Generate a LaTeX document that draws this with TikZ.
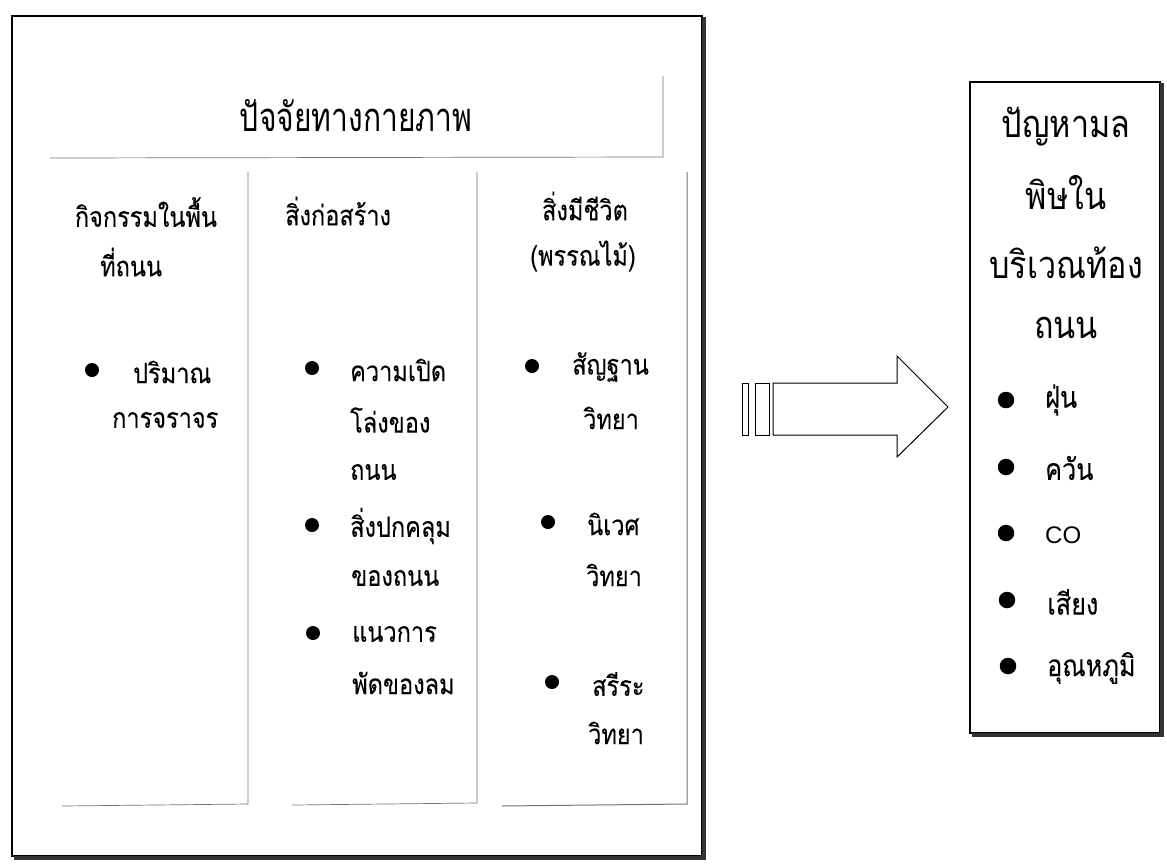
\documentclass[tikz,border=0pt]{standalone}
\usepackage{fontspec}
\setmainfont[Script=Thai]{Loma}
\newfontfamily\latinfont{Liberation Sans}
\newfontfamily\thaibody[Script=Thai,FakeStretch=0.84,FakeBold=0.12]{Loma}
\newfontfamily\thaititle[Script=Thai,FakeStretch=0.75]{Loma}
\newfontfamily\thairt[Script=Thai,FakeStretch=0.85]{Loma}
\tikzset{
  txt/.style={anchor=west, inner sep=0pt, font=\thaibody\fontsize{28}{32}\selectfont},
  ctxt/.style={anchor=center, inner sep=0pt, font=\thaibody\fontsize{28}{32}\selectfont},
  bigtxt/.style={anchor=center, inner sep=0pt, font=\thaititle\fontsize{40}{44}\selectfont},
  rtxt/.style={anchor=center, inner sep=0pt, font=\thairt\fontsize{38}{42}\selectfont},
  rbtxt/.style={anchor=west, inner sep=0pt, font=\thaibody\fontsize{30}{34}\selectfont},
  blt/.style={circle, fill=black, minimum size=14pt, inner sep=0pt},
  rblt/.style={circle, fill=black, minimum size=16.5pt, inner sep=0pt},
  colline/.style={draw=black!55, line width=0.7pt},
  frame/.style={draw=black, line width=1.3pt},
  shadow/.style={draw=black!80, line width=3.5pt},
  arrowline/.style={draw=black, line width=1pt}
}
\begin{document}
\begin{tikzpicture}[x=1pt,y=-1pt]
\useasboundingbox (0,0) rectangle (1167,863);
% outer frame
\draw[frame] (12,16) rectangle (702,856);
\draw[shadow] (704,17) -- (704,858) -- (14,858);
% title
\node[bigtxt] (title) at (356,116) {ปัจจัยทางกายภาพ};
\draw[colline] (50,158) -- (663,157) -- (663,76);
% columns
\draw[colline] (62,806) -- (248,804) -- (248,172);
\draw[colline] (292,805) -- (477,803) -- (477,172);
\draw[colline,line width=1pt] (502,806) -- (687,804) -- (687,172);
% column 1
\node[ctxt] (h1a) at (146,212) {กิจกรรมในพื้น};
\node[txt] (h1b) at (100,262) {ที่ถนน};
\node[blt] (b11) at (92,370) {};
\node[txt] (t11a) at (133,372) {ปริมาณ};
\node[txt] (t11b) at (112,420) {การจราจร};
% column 2
\node[txt] (h2) at (285,211) {สิ่งก่อสร้าง};
\node[blt] (b21) at (312,368) {};
\node[txt] (t21a) at (350,370) {ความเปิด};
\node[txt] (t21b) at (350,420) {โล่งของ};
\node[txt] (t21c) at (350,472) {ถนน};
\node[blt] (b22) at (312,525) {};
\node[txt] (t22a) at (350,526) {สิ่งปกคลุม};
\node[txt] (t22b) at (351,578) {ของถนน};
\node[blt] (b23) at (313,633) {};
\node[txt] (t23a) at (352,634) {แนวการ};
\node[txt] (t23b) at (352,683) {พัดของลม};
% column 3
\node[ctxt] (h3a) at (585,206) {สิ่งมีชีวิต};
\node[ctxt] (h3b) at (583,256) {(พรรณไม้)};
\node[blt] (b31) at (532,366) {};
\node[txt] (t31a) at (572,367) {สัญฐาน};
\node[txt] (t31b) at (583,418) {วิทยา};
\node[blt] (b32) at (548,522) {};
\node[txt] (t32a) at (587,524) {นิเวศ};
\node[txt] (t32b) at (586,575) {วิทยา};
\node[blt] (b33) at (552,682) {};
\node[txt] (t33a) at (592,684) {สรีระ};
\node[txt] (t33b) at (588,733) {วิทยา};
% block arrow
\draw[arrowline] (742,383) rectangle (748,435);
\draw[arrowline] (755,383) rectangle (769,435);
\draw[arrowline] (773,383) -- (897,383) -- (897,356) -- (948,407) -- (897,457) -- (897,435) -- (773,435) -- cycle;
% right box
\draw[frame] (970,82) rectangle (1160,733);
\draw[shadow] (1162,83) -- (1162,735) -- (972,735);
\node[rtxt] (r1) at (1066,127) {ปัญหามล};
\node[rtxt] (r2) at (1066,193) {พิษใน};
\node[rtxt] (r3) at (1066,263) {บริเวณท้อง};
\node[rtxt] (r4) at (1066,328) {ถนน};
\node[rblt] (rb1) at (1006,400) {};
\node[rbtxt] (rt1) at (1045,400) {ฝุ่น};
\node[rblt] (rb2) at (1006,467) {};
\node[rbtxt] (rt2) at (1045,468) {ควัน};
\node[rblt] (rb3) at (1006,533) {};
\node[rbtxt,font=\latinfont\fontsize{24}{28}\selectfont] (rt3) at (1045,535) {CO};
\node[rblt] (rb4) at (1007,600) {};
\node[rbtxt] (rt4) at (1047,602) {เสียง};
\node[rblt] (rb5) at (1008,666) {};
\node[rbtxt] (rt5) at (1047,668) {อุณหภูมิ};
\end{tikzpicture}
\end{document}
